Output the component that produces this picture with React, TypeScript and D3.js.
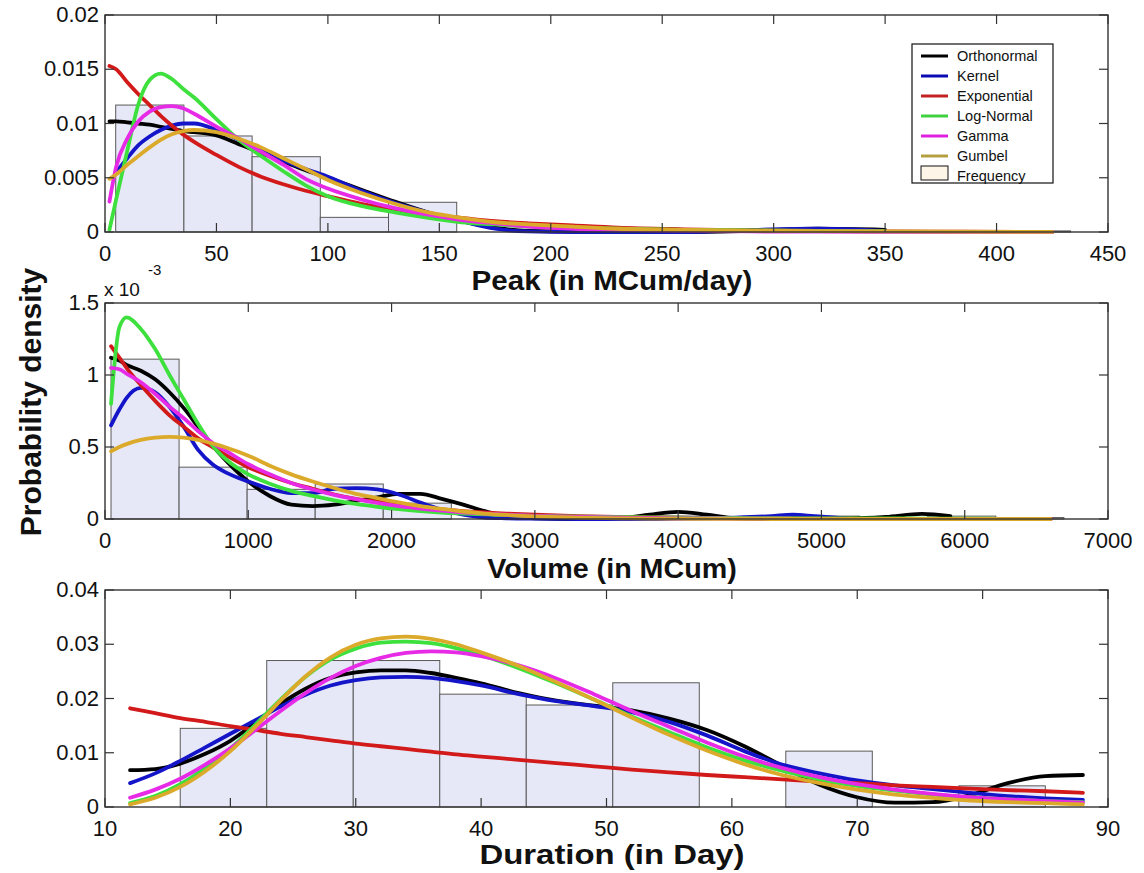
import React from "react";
import * as d3 from "d3";

// ---------- Panel 1: Peak ----------
const peakXTicks = [0, 50, 100, 150, 200, 250, 300, 350, 400, 450];
const peakYTicks = [0, 0.005, 0.01, 0.015, 0.02];
const peakBinStart = [4.8, 35.4, 66.0, 96.6, 127.2, 157.8, 188.4, 219.0, 249.6, 280.2, 310.8, 341.4, 372.0, 402.6];
const peakBinWidth = 30.6;
const peakBinHeight = [0.0117, 0.00885, 0.00694, 0.00135, 0.00274, 0, 0.0001, 0, 0.0001, 0.0002, 0.0002, 0.0001, 0, 0.0001];
const peakX = [2, 5, 10, 15, 20, 25, 30, 35, 40, 50, 60, 70, 80, 90, 100, 115, 130, 145, 160, 175, 190, 210, 230, 260, 290, 320, 350, 380, 425];
const peakOrtho = [0.0102, 0.0102, 0.0101, 0.0100, 0.0099, 0.0097, 0.0095, 0.0093, 0.0092, 0.0089, 0.0081, 0.0073, 0.0065, 0.0057, 0.0050, 0.0039, 0.0028, 0.0018, 0.0010, 0.0004, 0.0001, 0.00005, 0, 0, 0.0001, 0.0003, 0.0002, null, null];
const peakKernel = [null, 0.0055, 0.0068, 0.0080, 0.0088, 0.0094, 0.0098, 0.0100, 0.0100, 0.0094, 0.0085, 0.0075, 0.0066, 0.0058, 0.0051, 0.0038, 0.0027, 0.0018, 0.0010, 0.0003, 0.00005, 0, 0, 0, 0.0002, 0.0003, 0.0001, null, null];
const peakExpo = [0.0153, 0.0150, 0.0138, 0.0127, 0.0117, 0.0107, 0.0098, 0.0090, 0.0083, 0.0071, 0.0060, 0.0051, 0.0044, 0.0038, 0.0033, 0.0026, 0.0021, 0.0016, 0.0013, 0.0010, 0.0008, 0.0006, 0.0004, 0.00025, 0.00015, 0.0001, 0.00005, 0.00003, 0.00001];
const peakLogn = [0.0002, 0.0030, 0.0075, 0.0118, 0.0140, 0.0146, 0.0141, 0.0132, 0.0124, 0.0104, 0.0085, 0.0070, 0.0056, 0.0043, 0.0033, 0.0024, 0.0018, 0.0013, 0.0009, 0.0007, 0.0005, 0.0004, 0.0003, 0.0002, 0.00015, 0.0001, 0.00008, null, null];
const peakGamma = [0.0028, 0.0060, 0.0086, 0.0102, 0.0111, 0.0115, 0.0116, 0.0114, 0.0109, 0.0097, 0.0086, 0.0074, 0.0062, 0.0049, 0.0040, 0.0030, 0.0022, 0.0016, 0.0011, 0.0008, 0.0005, 0.0003, 0.0002, 0.0001, 0.00005, 0.00003, 0.00002, 0.00001, 0];
const peakGumbel = [0.0049, 0.0053, 0.0062, 0.0070, 0.0078, 0.0085, 0.0090, 0.0093, 0.0094, 0.0092, 0.0086, 0.0078, 0.0068, 0.0058, 0.0048, 0.0036, 0.0026, 0.0018, 0.0013, 0.0009, 0.0007, 0.0005, 0.0003, 0.0002, 0.00012, 0.00008, 0.00005, 0.00003, 0.00001];

// ---------- Panel 2: Volume (x 10^-3) ----------
const volXTicks = [0, 1000, 2000, 3000, 4000, 5000, 6000, 7000];
const volYTicks = [0, 0.5, 1, 1.5];
const volBinStart = [42, 517, 992, 1467, 1942, 2417, 2892, 3367, 3842, 4317, 4792, 5267, 5742, 6217];
const volBinWidth = 475;
const volBinHeight = [1.11, 0.36, 0.206, 0.243, 0.11, 0, 0, 0, 0.02, 0, 0.02, 0, 0.02, 0.01];
const volX = [42, 100, 150, 250, 350, 450, 550, 650, 750, 850, 1000, 1150, 1300, 1450, 1600, 1750, 1900, 2050, 2200, 2350, 2500, 2650, 2800, 3000, 3300, 3600, 3800, 4000, 4200, 4400, 4650, 4800, 4950, 5200, 5450, 5700, 5900, 6200, 6600];
const volOrtho = [1.12, 1.10, 1.07, 1.03, 0.97, 0.88, 0.77, 0.64, 0.51, 0.40, 0.26, 0.16, 0.10, 0.09, 0.10, 0.125, 0.15, 0.175, 0.175, 0.14, 0.10, 0.055, 0.02, 0.005, 0, 0.005, 0.03, 0.05, 0.03, 0.005, 0, 0.005, 0.005, 0.005, 0.015, 0.035, 0.02, null, null];
const volKernel = [0.65, 0.76, 0.84, 0.91, 0.88, 0.78, 0.64, 0.48, 0.38, 0.32, 0.26, 0.21, 0.18, 0.18, 0.21, 0.215, 0.205, 0.17, 0.115, 0.065, 0.03, 0.01, 0.005, 0.002, 0, 0, 0, 0.003, 0.005, 0.01, 0.02, 0.03, 0.02, 0.003, null, null, null, null, null];
const volExpo = [1.20, 1.12, 1.05, 0.93, 0.82, 0.72, 0.64, 0.56, 0.50, 0.44, 0.36, 0.30, 0.25, 0.21, 0.17, 0.14, 0.12, 0.098, 0.08, 0.067, 0.055, 0.046, 0.038, 0.03, 0.02, 0.014, 0.011, 0.009, 0.007, 0.005, 0.004, 0.003, 0.003, 0.002, 0.001, 0.001, 0.001, 0.0005, 0];
const volLogn = [0.80, 1.33, 1.40, 1.32, 1.18, 1.00, 0.83, 0.66, 0.51, 0.41, 0.31, 0.245, 0.195, 0.16, 0.13, 0.105, 0.085, 0.068, 0.055, 0.045, 0.038, 0.032, 0.027, 0.022, 0.017, 0.013, 0.011, 0.009, 0.008, 0.007, 0.006, 0.005, 0.005, 0.004, 0.004, 0.003, 0.003, 0.002, null];
const volGamma = [1.05, 1.04, 1.01, 0.95, 0.87, 0.78, 0.70, 0.61, 0.53, 0.47, 0.38, 0.31, 0.25, 0.205, 0.168, 0.138, 0.112, 0.09, 0.073, 0.059, 0.047, 0.038, 0.03, 0.022, 0.014, 0.009, 0.007, 0.005, 0.004, 0.003, 0.002, 0.0015, 0.001, 0.001, 0.0005, 0, 0, 0, 0];
const volGumbel = [0.47, 0.50, 0.52, 0.55, 0.565, 0.57, 0.565, 0.55, 0.525, 0.495, 0.44, 0.37, 0.31, 0.26, 0.215, 0.175, 0.145, 0.115, 0.09, 0.07, 0.052, 0.038, 0.028, 0.018, 0.01, 0.005, 0.003, 0.002, 0.001, 0.001, 0, 0, 0, 0, 0, 0, 0, 0, 0];

// ---------- Panel 3: Duration ----------
const durXTicks = [10, 20, 30, 40, 50, 60, 70, 80, 90];
const durYTicks = [0, 0.01, 0.02, 0.03, 0.04];
const durBinStart = [16, 22.9, 29.8, 36.7, 43.6, 50.5, 57.4, 64.3, 71.2, 78.1];
const durBinWidth = 6.9;
const durBinHeight = [0.0145, 0.027, 0.027, 0.0208, 0.0188, 0.0229, 0, 0.0103, 0, 0.0039];
const durX = [12, 14, 16, 18, 20, 22, 24, 26, 28, 30, 32, 34, 36, 38, 40, 43, 46, 49, 52, 55, 58, 61, 64, 67, 70, 73, 76, 79, 82, 85, 88];
const durOrtho = [0.0068, 0.0070, 0.0080, 0.0098, 0.0122, 0.0155, 0.0190, 0.0218, 0.0238, 0.0248, 0.0252, 0.0252, 0.0247, 0.0238, 0.0228, 0.0210, 0.0196, 0.0187, 0.0178, 0.0163, 0.0142, 0.0112, 0.0076, 0.0041, 0.0018, 0.0008, 0.0009, 0.0022, 0.0044, 0.0057, 0.0059];
const durKernel = [0.0044, 0.0062, 0.0085, 0.0110, 0.0135, 0.0160, 0.0185, 0.0207, 0.0224, 0.0234, 0.0239, 0.0240, 0.0238, 0.0232, 0.0224, 0.0208, 0.0195, 0.0186, 0.0175, 0.0157, 0.0132, 0.0103, 0.0078, 0.0062, 0.0049, 0.0040, 0.0033, 0.0026, 0.0020, 0.0016, 0.0013];
const durExpo = [0.0182, 0.0173, 0.0164, 0.0157, 0.0149, 0.0142, 0.0135, 0.0129, 0.0123, 0.0117, 0.0112, 0.0107, 0.0102, 0.0097, 0.0093, 0.0087, 0.0081, 0.0075, 0.0069, 0.0064, 0.0059, 0.0055, 0.0051, 0.0047, 0.0044, 0.0040, 0.0037, 0.0034, 0.0031, 0.0029, 0.0026];
const durLogn = [0.0007, 0.0020, 0.0042, 0.0072, 0.0108, 0.0152, 0.0198, 0.0240, 0.0272, 0.0292, 0.0303, 0.0305, 0.0302, 0.0293, 0.0280, 0.0256, 0.0228, 0.0198, 0.0167, 0.0138, 0.0110, 0.0086, 0.0067, 0.0051, 0.0039, 0.0030, 0.0023, 0.0018, 0.0014, 0.0011, 0.0009];
const durGamma = [0.0017, 0.0032, 0.0052, 0.0078, 0.0108, 0.0142, 0.0177, 0.0210, 0.0238, 0.0260, 0.0275, 0.0284, 0.0287, 0.0285, 0.0278, 0.0261, 0.0237, 0.0208, 0.0177, 0.0148, 0.0119, 0.0093, 0.0072, 0.0055, 0.0042, 0.0032, 0.0024, 0.0018, 0.0014, 0.0011, 0.0008];
const durGumbel = [0.0005, 0.0017, 0.0037, 0.0066, 0.0103, 0.0148, 0.0196, 0.0241, 0.0276, 0.0299, 0.0311, 0.0314, 0.0310, 0.0300, 0.0285, 0.0260, 0.0230, 0.0198, 0.0165, 0.0133, 0.0104, 0.0079, 0.0059, 0.0044, 0.0032, 0.0023, 0.0017, 0.0012, 0.0009, 0.0007, 0.0005];

const seriesNames = ["Orthonormal", "Kernel", "Exponential", "Log-Normal", "Gamma", "Gumbel"];
const seriesColors = ["#000000", "#1414c8", "#d21a1a", "#3ee03e", "#e62ae6", "#dcaa2a"];
const legendColors = ["#000000", "#0a0ab4", "#c42222", "#40d040", "#e020e0", "#b4a040"];

const FONT = "'Liberation Sans', Arial, sans-serif";
const X0 = 105;
const X1 = 1108;

type Panel = {
  top: number;
  bottom: number;
  xDomain: [number, number];
  yDomain: [number, number];
  xTicks: number[];
  yTicks: number[];
  binStart: number[];
  binWidth: number;
  binHeight: number[];
  xs: number[];
  series: (number | null)[][];
  label: string;
  labelBaseline: number;
};

const panels: Panel[] = [
  {
    top: 15, bottom: 232, xDomain: [0, 450], yDomain: [0, 0.02],
    xTicks: peakXTicks, yTicks: peakYTicks,
    binStart: peakBinStart, binWidth: peakBinWidth, binHeight: peakBinHeight,
    xs: peakX, series: [peakOrtho, peakKernel, peakExpo, peakLogn, peakGamma, peakGumbel],
    label: "Peak (in MCum/day)", labelBaseline: 290,
  },
  {
    top: 303, bottom: 519, xDomain: [0, 7000], yDomain: [0, 1.5],
    xTicks: volXTicks, yTicks: volYTicks,
    binStart: volBinStart, binWidth: volBinWidth, binHeight: volBinHeight,
    xs: volX, series: [volOrtho, volKernel, volExpo, volLogn, volGamma, volGumbel],
    label: "Volume (in MCum)", labelBaseline: 578,
  },
  {
    top: 590, bottom: 807, xDomain: [10, 90], yDomain: [0, 0.04],
    xTicks: durXTicks, yTicks: durYTicks,
    binStart: durBinStart, binWidth: durBinWidth, binHeight: durBinHeight,
    xs: durX, series: [durOrtho, durKernel, durExpo, durLogn, durGamma, durGumbel],
    label: "Duration (in Day)", labelBaseline: 864,
  },
];

function PanelView({ p }: { p: Panel }) {
  const x = d3.scaleLinear().domain(p.xDomain).range([X0, X1]);
  const y = d3.scaleLinear().domain(p.yDomain).range([p.bottom, p.top]);
  const line = d3
    .line<[number, number | null]>()
    .defined((d) => d[1] != null)
    .x((d) => x(d[0]))
    .y((d) => y(d[1] as number))
    .curve(d3.curveMonotoneX);
  const tl = 9;
  return (
    <g>
      {p.binStart.map((s, i) =>
        p.binHeight[i] > 0 ? (
          <rect
            key={"b" + i}
            x={x(s)}
            y={y(p.binHeight[i])}
            width={x(s + p.binWidth) - x(s)}
            height={p.bottom - y(p.binHeight[i])}
            fill="#e6e8f7"
            stroke="#5a5a5a"
            strokeWidth={1}
          />
        ) : null
      )}
      {p.series.map((vals, si) => (
        <path
          key={"s" + si}
          d={line(p.xs.map((xv, i) => [xv, vals[i]] as [number, number | null])) || ""}
          fill="none"
          stroke={seriesColors[si]}
          strokeWidth={3.8}
          strokeLinejoin="round"
          strokeLinecap="round"
        />
      ))}
      <rect x={X0} y={p.top} width={X1 - X0} height={p.bottom - p.top} fill="none" stroke="#333" strokeWidth={1.4} />
      {p.xTicks.map((t, i) => (
        <g key={"xt" + i}>
          <line x1={x(t)} x2={x(t)} y1={p.bottom} y2={p.bottom - tl} stroke="#333" strokeWidth={1.2} />
          <line x1={x(t)} x2={x(t)} y1={p.top} y2={p.top + tl} stroke="#333" strokeWidth={1.2} />
          <text x={x(t)} y={p.bottom + 29} textAnchor="middle" fontSize={22} fontFamily={FONT} fill="#111">
            {String(t)}
          </text>
        </g>
      ))}
      {p.yTicks.map((t, i) => (
        <g key={"yt" + i}>
          <line x1={X0} x2={X0 + tl} y1={y(t)} y2={y(t)} stroke="#333" strokeWidth={1.2} />
          <line x1={X1} x2={X1 - tl} y1={y(t)} y2={y(t)} stroke="#333" strokeWidth={1.2} />
          <text x={99} y={y(t) + 7} textAnchor="end" fontSize={22} fontFamily={FONT} fill="#111">
            {String(t)}
          </text>
        </g>
      ))}
      <text x={612} y={p.labelBaseline} textAnchor="middle" fontSize={27} fontWeight="bold" fontFamily={FONT} fill="#111" textLength={p.label.length * 15.6} lengthAdjust="spacingAndGlyphs">
        {p.label}
      </text>
    </g>
  );
}

export default function App() {
  const lx = 912, ly = 44, lw = 141, lh = 139;
  return (
    <svg
      width={1144}
      height={873}
      viewBox="0 0 1144 873"
      style={{ position: "absolute", left: 0, top: 0, background: "#fff" }}
    >
      <rect x={0} y={0} width={1144} height={873} fill="#fff" />
      {panels.map((p, i) => (
        <PanelView key={i} p={p} />
      ))}
      {/* x 10^-3 multiplier */}
      <text x={104} y={296} fontSize={19} fontFamily={FONT} fill="#111">x 10</text>
      <text x={148} y={275} fontSize={15} fontFamily={FONT} fill="#111">-3</text>
      {/* y label */}
      <text
        transform="translate(41,402) rotate(-90)"
        textAnchor="middle"
        fontSize={30}
        fontWeight="bold"
        fontFamily={FONT}
        fill="#111"
      >
        Probability density
      </text>
      {/* legend */}
      <g>
        <rect x={lx} y={ly} width={lw} height={lh} fill="#fff" stroke="#111" strokeWidth={1.2} />
        {seriesNames.map((n, i) => (
          <g key={"l" + i}>
            <line x1={921} x2={948} y1={56 + i * 20} y2={56 + i * 20} stroke={legendColors[i]} strokeWidth={3} />
            <text x={957} y={61 + i * 20} fontSize={14.5} fontFamily={FONT} fill="#111">
              {n}
            </text>
          </g>
        ))}
        <rect x={921} y={166} width={27} height={14} fill="#fdf6e8" stroke="#111" strokeWidth={1} />
        <text x={957} y={181} fontSize={14.5} fontFamily={FONT} fill="#111">Frequency</text>
      </g>
    </svg>
  );
}
